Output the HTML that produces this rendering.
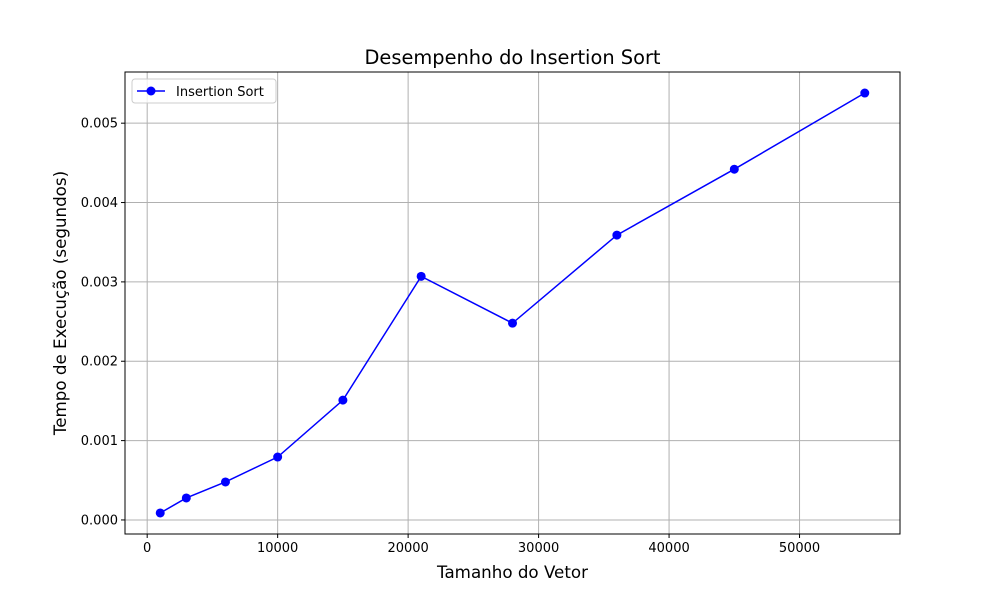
<!DOCTYPE html>
<html><head><meta charset="utf-8"><style>
body{margin:0;background:#fff;}
svg text{font-family:"DejaVu Sans","Liberation Sans",sans-serif;}
</style></head><body>
<svg id="chart" width="1000" height="600" viewBox="0 0 1000 600" xmlns="http://www.w3.org/2000/svg">
<rect width="1000" height="600" fill="#fff"/>
<g id="grid"></g>
<g id="series"></g>
<rect x="125" y="72" width="775" height="462" fill="none" stroke="#000" stroke-width="1"/>
<g id="ticks"></g>
<text x="512.5" y="64" text-anchor="middle" font-size="19.4">Desempenho do Insertion Sort</text>
<text x="512.5" y="578" text-anchor="middle" font-size="16.7">Tamanho do Vetor</text>
<text transform="translate(66,303) rotate(-90)" text-anchor="middle" font-size="16.7">Tempo de Execução (segundos)</text>
<g>
<rect x="132" y="79" width="144" height="24" rx="3" fill="#fff" fill-opacity="0.8" stroke="#ccc"/>
<line x1="137" y1="91" x2="165" y2="91" stroke="#0000ff" stroke-width="1.5"/>
<circle cx="151" cy="91" r="4.5" fill="#0000ff"/>
<text x="176" y="96" font-size="13">Insertion Sort</text>
</g>
</svg>
<script>
const sizes=[1000,3000,6000,10000,15000,21000,28000,36000,45000,55000];
const times=[0.000088,0.000277,0.000479,0.000793,0.00151,0.00307,0.00248,0.00359,0.00442,0.00538];
const xTicks=[0,10000,20000,30000,40000,50000];
const yTicks=[0,0.001,0.002,0.003,0.004,0.005];
const yTickLabels=["0.000","0.001","0.002","0.003","0.004","0.005"];
const L=125,R=900,T=72,B=534;
const xmin=-1700,xmax=57700,ymin=-0.000177,ymax=0.005645;
const xs=v=>L+(v-xmin)/(xmax-xmin)*(R-L);
const ys=v=>B-(v-ymin)/(ymax-ymin)*(B-T);
const NS="http://www.w3.org/2000/svg";
const grid=document.getElementById('grid'),ticks=document.getElementById('ticks'),ser=document.getElementById('series');
function mk(tag,attrs,parent){const e=document.createElementNS(NS,tag);for(const k in attrs)e.setAttribute(k,attrs[k]);parent.appendChild(e);return e;}
xTicks.forEach(v=>{const x=xs(v);
const g=mk('line',{x1:x,x2:x,y1:T,y2:B,stroke:'#b0b0b0','stroke-width':1},grid);


const t=mk('line',{x1:x,x2:x,y1:B,y2:B+4,stroke:'#000'},ticks);


const l=mk('text',{x:x,y:B+18,'text-anchor':'middle','font-size':13},ticks);l.textContent=v;


});
yTicks.forEach((v,i)=>{const y=ys(v);
const g=mk('line',{x1:L,x2:R,y1:y,y2:y,stroke:'#b0b0b0','stroke-width':1},grid);


const t=mk('line',{x1:L-4,x2:L,y1:y,y2:y,stroke:'#000'},ticks);


const l=mk('text',{x:L-7,y:y+4.5,'text-anchor':'end','font-size':13},ticks);l.textContent=yTickLabels[i];


});
const pl=mk('polyline',{points:sizes.map((s,i)=>xs(s)+','+ys(times[i])).join(' '),fill:'none',stroke:'#0000ff','stroke-width':1.5},ser);


sizes.forEach((s,i)=>{const c=mk('circle',{cx:xs(s),cy:ys(times[i]),r:4.5,fill:'#0000ff'},ser);


});
</script>
</body></html>
